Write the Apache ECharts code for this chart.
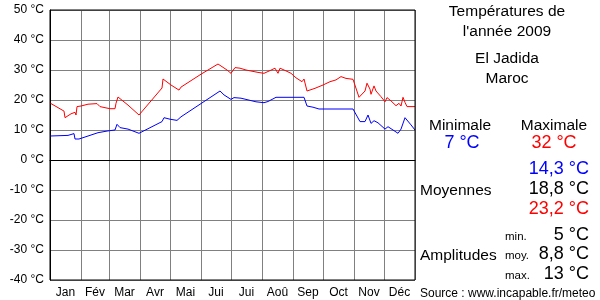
<!DOCTYPE html>
<html><head><meta charset="utf-8">
<script src="https://cdn.jsdelivr.net/npm/echarts@6/dist/echarts.min.js"></script>
<style>html,body{margin:0;padding:0;background:#fff}#c{width:600px;height:300px}</style>
</head><body><div id="c"></div>
<script>
const monthLabels = ['Jan','Fév','Mar','Avr','Mai','Jui','Jui','Aoû','Sep','Oct','Nov','Déc'];
const monthStarts = [0,31,59,90,120,151,181,212,243,273,304,334,365];
const yMin = -40, yMax = 50, yStep = 10;
// [day of year, °C]
const maxTemps = [[0,19],[14,16.3],[15,14.1],[21,15.4],[25,15.9],[26,15],[27,17.8],[31,18],[38,18.6],[47,18.8],[50,17.8],[57,17.3],[60,17.1],[65,17.1],[66,18.9],[68,21],[78,18.3],[89,15],[112,24],[113,27],[121,25],[129,23.3],[131,24.3],[151,28.6],[168,32],[177,30],[181,28.9],[185,30.8],[190,30.6],[196,30],[208,29.2],[214,28.9],[220,29.8],[225,30.6],[227,31],[228,28.9],[230,30.6],[236,29.7],[241,28.9],[246,27.4],[252,26.1],[254,27],[257,23],[265,23.9],[273,25],[280,26.1],[286,26.7],[291,27.8],[296,27.2],[303,26.9],[309,20.9],[315,23],[317,25.6],[320,23.6],[321,21.9],[324,24.7],[326,23],[331,21.1],[335,19.4],[337,20.8],[341,19.7],[346,18.1],[349,18.9],[351,18],[353,20.9],[355,19.2],[357,17.8],[365,17.8]];
const minTemps = [[0,8],[18,8.2],[24,8.8],[25,7],[29,7],[31,7.4],[48,9.1],[58,9.7],[65,10],[67,11.9],[70,10.8],[78,10.3],[89,8.9],[112,12.8],[114,14.1],[120,13.6],[127,13.2],[131,14.4],[170,23],[174,21.7],[181,20.2],[184,20.8],[191,20.6],[206,19.4],[214,19.1],[218,19.5],[226,20.9],[254,20.9],[257,18],[263,17.6],[269,17],[303,17],[310,12.8],[315,12.8],[318,15],[321,12.2],[324,13.1],[328,12.4],[335,10.3],[338,11.1],[348,8.9],[351,10.3],[355,14.1],[361,11.7],[365,10]];
const titleLines = ['Températures de', "l'année 2009"];
const placeLines = ['El Jadida', 'Maroc'];
const extremeLabels = ['Minimale', 'Maximale'];
const extremeValues = ['7 °C', '32 °C'];
const meansLabel = 'Moyennes';
const meanValues = ['14,3 °C', '18,8 °C', '23,2 °C'];
const amplitudesLabel = 'Amplitudes';
const amplitudeKeys = ['min.', 'moy.', 'max.'];
const amplitudeValues = ['5 °C', '8,8 °C', '13 °C'];
const sourceText = 'Source : www.incapable.fr/meteo';

const FONT = '"Liberation Sans", Arial, sans-serif';
const monthMids = monthLabels.map((m, i) => (monthStarts[i] + monthStarts[i + 1]) / 2);

// baseline-positioned text (y given as baseline)
function txt(text, x, baseline, size, color, align) {
  return { type: 'text', x: x, y: baseline - 0.76 * size, silent: true,
    style: { text: text, fontFamily: FONT, fontSize: size, fill: color, align: align || 'center', verticalAlign: 'top' } };
}

const graphics = [
  txt(titleLines[0], 507, 15, 15.5, '#000'),
  txt(titleLines[1], 507, 35, 15.5, '#000'),
  txt(placeLines[0], 507, 62, 15.5, '#000'),
  txt(placeLines[1], 507, 82, 15.5, '#000'),
  txt(extremeLabels[0], 460, 129, 15.5, '#000'),
  txt(extremeLabels[1], 554, 129, 15.5, '#000'),
  txt(extremeValues[0], 462, 148, 18, '#0000ff'),
  txt(extremeValues[1], 554, 148, 18, '#ff0000'),
  txt(meanValues[0], 589, 174, 18, '#0000ff', 'right'),
  txt(meanValues[1], 589, 194, 18, '#000', 'right'),
  txt(meanValues[2], 589, 214, 18, '#ff0000', 'right'),
  txt(meansLabel, 420, 194, 15.5, '#000', 'left'),
  txt(amplitudeKeys[0], 505, 240, 11.5, '#000', 'left'),
  txt(amplitudeKeys[1], 505, 259, 11.5, '#000', 'left'),
  txt(amplitudeKeys[2], 505, 279, 11.5, '#000', 'left'),
  txt(amplitudeValues[0], 589, 240, 18, '#000', 'right'),
  txt(amplitudeValues[1], 589, 259, 18, '#000', 'right'),
  txt(amplitudeValues[2], 589, 279, 18, '#000', 'right'),
  txt(amplitudesLabel, 420, 259, 15.5, '#000', 'left'),
  txt(sourceText, 420, 297, 12, '#000', 'left')
];

const chart = echarts.init(document.getElementById('c'), null, { renderer: 'canvas' });
chart.setOption({
  animation: false,
  backgroundColor: '#fff',
  grid: { left: 50, right: 185, top: 10, bottom: 20, show: true, borderColor: '#000', borderWidth: 1, backgroundColor: 'transparent', z: 5 },
  xAxis: {
    type: 'value', min: 0, max: 365,
    axisLine: { show: true, lineStyle: { color: '#000', width: 1 } },
    axisTick: { show: false, customValues: monthStarts },
    splitLine: { show: true, lineStyle: { color: '#808080', width: 1 } },
    axisLabel: { customValues: monthMids, formatter: v => monthLabels[monthMids.indexOf(v)] || '', color: '#000', fontFamily: FONT, fontSize: 12, margin: 7 }
  },
  yAxis: {
    type: 'value', min: yMin, max: yMax, interval: yStep,
    axisLine: { show: true, lineStyle: { color: '#000', width: 1 } },
    axisTick: { show: false },
    splitLine: { show: true, lineStyle: { color: '#808080', width: 1 } },
    axisLabel: { formatter: v => v + ' °C', color: '#000', fontFamily: FONT, fontSize: 12, margin: 6 }
  },
  series: [
    { type: 'line', data: maxTemps, showSymbol: false, symbol: 'none', lineStyle: { color: '#ff0000', width: 1 }, z: 3 },
    { type: 'line', data: minTemps, showSymbol: false, symbol: 'none', lineStyle: { color: '#0000ff', width: 1 }, z: 3 }
  ],
  graphic: graphics
});
</script></body></html>
